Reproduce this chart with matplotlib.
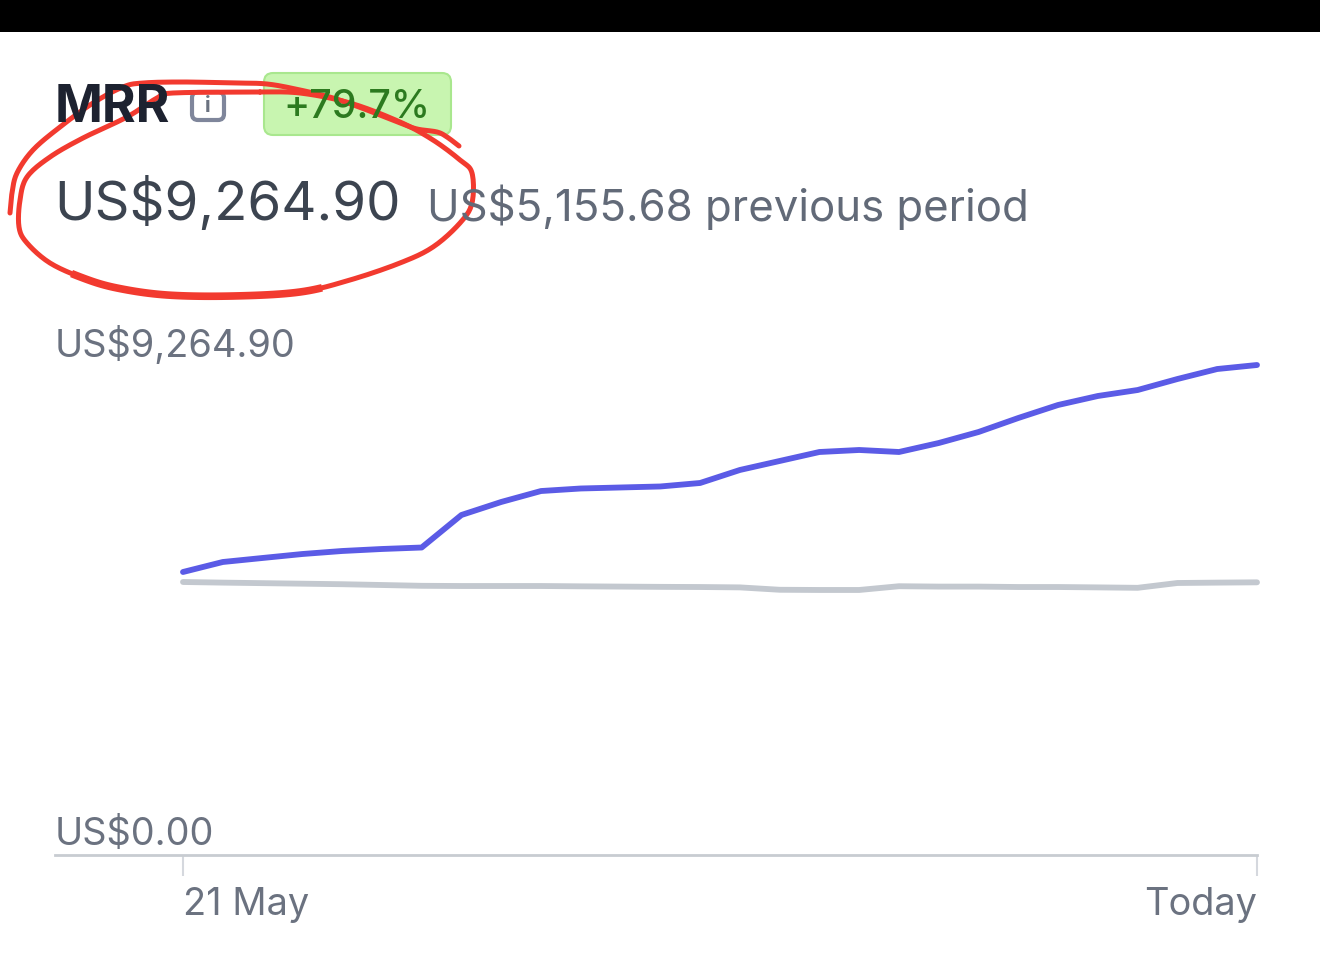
import numpy as np
import matplotlib
matplotlib.use('Agg')
import matplotlib.pyplot as plt
from matplotlib.patches import FancyBboxPatch

plt.rcParams['font.family'] = ['Inter', 'DejaVu Sans']

days = list(range(28))
current_mrr = [5351, 5540, 5616, 5691, 5748, 5786, 5814, 6429, 6675, 6882, 6930, 6949, 6968, 7034,
               7280, 7450, 7620, 7658, 7620, 7790, 7998, 8263, 8509, 8679, 8792, 9000, 9189, 9264.90]
previous_mrr = [5162, 5150, 5140, 5130, 5120, 5105, 5090, 5086, 5086, 5086, 5080, 5075, 5070, 5067,
                5060, 5015, 5011, 5011, 5082, 5075, 5075, 5067, 5067, 5060, 5052, 5143, 5150, 5155.68]
y_ticks = [0, 9264.90]
y_tick_labels = ['US$0.00', 'US$9,264.90']
x_ticks = [0, 27]
x_tick_labels = ['21 May', 'Today']

# hand drawn circle, in picture pixels
scribble_outer = [(10, 213), (12, 193), (17, 173), (33, 150), (60, 127), (93, 103), (123, 87), (143, 83),
                  (183, 82), (233, 83), (267, 84), (300, 90), (333, 98), (367, 110), (400, 123),
                  (417, 129), (437, 132), (447, 137), (459, 146)]
scribble_inner = [(260, 92), (173, 93), (157, 98), (127, 117), (83, 138), (50, 157), (27, 177), (20, 200),
                  (19, 227), (27, 243), (50, 263), (83, 278), (117, 288), (167, 295), (233, 296), (300, 292),
                  (350, 280), (400, 263), (433, 247), (460, 223), (472, 203), (472, 173), (460, 160),
                  (433, 140), (400, 122), (350, 103), (300, 93), (260, 92)]


def smooth(points, steps=12):
    # catmull-rom through the traced points
    p = np.array([points[0]] + points + [points[-1]], dtype=float)
    out = []
    for i in range(1, len(p) - 2):
        for t in np.linspace(0, 1, steps, endpoint=False):
            out.append(0.5 * (2 * p[i] + (p[i + 1] - p[i - 1]) * t
                              + (2 * p[i - 1] - 5 * p[i] + 4 * p[i + 1] - p[i + 2]) * t ** 2
                              + (3 * p[i] - p[i - 1] - 3 * p[i + 1] + p[i + 2]) * t ** 3))
    out.append(p[-2])
    return np.array(out)


fig = plt.figure(figsize=(13.2, 9.6), dpi=100, facecolor='white')

# chart: baseline at y=855px, left 55px, right 1257px
ax = fig.add_axes([55 / 1320, (960 - 855) / 960, 1202 / 1320, 555 / 960])
ax.plot(days, previous_mrr, color='#c3c8cf', lw=4.2, solid_capstyle='round', solid_joinstyle='round', clip_on=False)
ax.plot(days, current_mrr, color='#5b5be6', lw=4.2, solid_capstyle='round', solid_joinstyle='round', clip_on=False)
ax.set_xlim(-128 / 39.78, 27)
ax.set_ylim(0, 555 * 18.908)
for side in ['top', 'left', 'right']:
    ax.spines[side].set_visible(False)
ax.spines['bottom'].set_color('#c8ccd1')
ax.spines['bottom'].set_linewidth(2)
ax.patch.set_alpha(0)
ax.set_xticks(x_ticks, x_tick_labels)
ax.tick_params(axis='x', length=15, width=1.5, color='#d5d8de', labelcolor='#6b7280', labelsize=27.3, pad=8)
ax.get_xticklabels()[0].set_ha('left')
ax.get_xticklabels()[1].set_ha('right')
ax.set_yticks([])
ax.annotate(y_tick_labels[0], (0, y_ticks[0]), xycoords=('axes fraction', 'data'), xytext=(0, 7),
            textcoords='offset points', color='#6b7280', fontsize=27.3, va='baseline')
ax.annotate(y_tick_labels[1], (0, y_ticks[1]), xycoords=('axes fraction', 'data'), xytext=(0, 5.5),
            textcoords='offset points', color='#6b7280', fontsize=27.3, va='baseline')

# overlay in picture pixels for the header
ov = fig.add_axes([0, 0, 1, 1], facecolor='none')
ov.set_xlim(0, 1320)
ov.set_ylim(960, 0)
ov.axis('off')
ov.fill_between([0, 1320], 0, 32, color='black', lw=0)

ov.text(55, 122, 'MRR', fontsize=37, fontweight='bold', color='#1d2230', va='baseline')
ov.add_patch(FancyBboxPatch((192, 92), 32, 28, boxstyle='round,pad=0,rounding_size=6',
                            fc='none', ec='#7f869b', lw=3))
ov.text(208, 106, 'i', fontsize=15, fontweight='bold', color='#6b7280', ha='center', va='center')
ov.add_patch(FancyBboxPatch((264, 73), 187, 62, boxstyle='round,pad=0,rounding_size=9',
                            fc='#c8f5b0', ec='#a9e78e', lw=1.5))
ov.text(357, 118, '+79.7%', fontsize=28.4, fontweight='medium', color='#2c7a1f', ha='center', va='baseline')
ov.text(54, 220, 'US$9,264.90', fontsize=39.3, color='#3c4450', va='baseline')
ov.text(427, 221, 'US$5,155.68 previous period', fontsize=31.5, color='#626a78', va='baseline')

for stroke in [scribble_outer, scribble_inner]:
    xy = smooth(stroke)
    ov.plot(xy[:, 0], xy[:, 1], color='#f23a2f', lw=3.6, solid_capstyle='round')

# the bottom of the loop is drawn heavier, same path as the inner stroke
xy = smooth(scribble_inner)[128:186]
ov.plot(xy[:, 0], xy[:, 1], color='#f23a2f', lw=5.5, solid_capstyle='butt')

fig.savefig('out.png', dpi=100)
